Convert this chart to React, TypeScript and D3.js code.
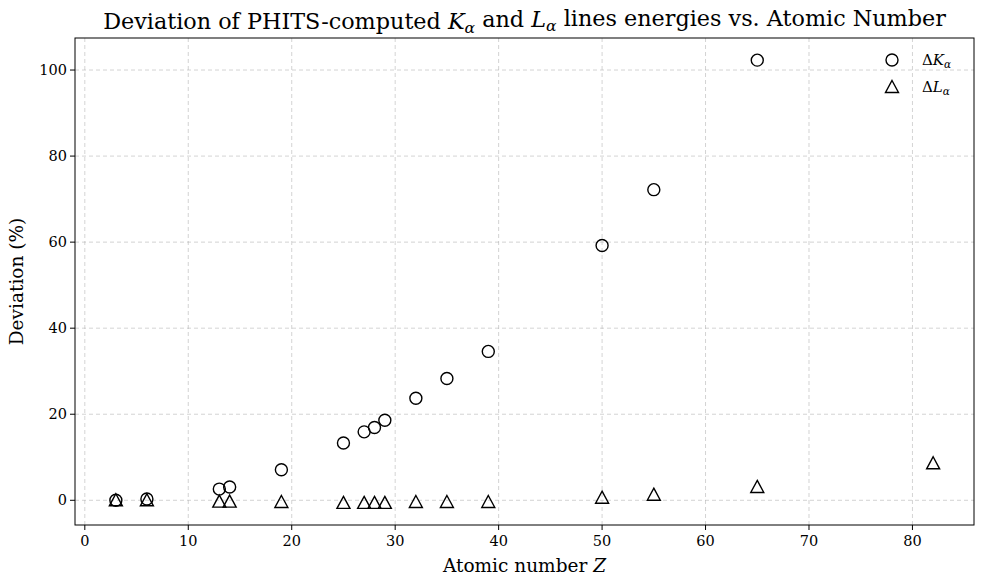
import * as d3 from "d3";

const W = 984;
const H = 584;
const margin = { top: 38, right: 10, bottom: 59, left: 75 };
const IW = W - margin.left - margin.right;
const IH = H - margin.top - margin.bottom;

const Z_K: number[] = [3, 6, 13, 14, 19, 25, 27, 28, 29, 32, 35, 39, 50, 55, 65];
const DEV_K: number[] = [0, 0.3, 2.6, 3.1, 7.1, 13.3, 15.9, 16.9, 18.6, 23.7, 28.3, 34.6, 59.2, 72.2, 102.3];
const Z_L: number[] = [3, 6, 13, 14, 19, 25, 27, 28, 29, 32, 35, 39, 50, 55, 65, 82];
const DEV_L: number[] = [0, 0, -0.3, -0.3, -0.4, -0.6, -0.6, -0.6, -0.6, -0.4, -0.4, -0.4, 0.6, 1.3, 3.1, 8.6];
const X_TICKS: number[] = [0, 10, 20, 30, 40, 50, 60, 70, 80];
const Y_TICKS: number[] = [0, 20, 40, 60, 80, 100];

const FONT = "'DejaVu Serif', serif";

const tri = (cx: number, cy: number, s: number) =>
  `M${cx},${cy - s}L${cx + s},${cy + s * 0.85}L${cx - s},${cy + s * 0.85}Z`;

const Sub = ({ base }: { base: string }) => (
  <>
    <tspan fontStyle="italic">{base}</tspan>
    <tspan fontStyle="italic" fontSize="0.7em" dy="0.25em">α</tspan>
    <tspan dy="-0.25em"> </tspan>
  </>
);

export default function App() {
  const allZ = [...Z_K, ...Z_L];
  const allD = [...DEV_K, ...DEV_L];
  const [zx0, zx1] = d3.extent(allZ) as [number, number];
  const [dy0, dy1] = d3.extent(allD) as [number, number];
  const px = (zx1 - zx0) * 0.05;
  const py = (dy1 - dy0) * 0.05;
  const x = d3.scaleLinear().domain([zx0 - px, zx1 + px]).range([0, IW]);
  const y = d3.scaleLinear().domain([dy0 - py, dy1 + py]).range([IH, 0]);

  return (
    <svg width={W} height={H} style={{ position: "absolute", left: 0, top: 0 }} fontFamily={FONT}>
      <rect width={W} height={H} fill="#fff" />
      <text x={margin.left + IW / 2} y={29} textAnchor="middle" fontSize={22.3}>
        Deviation of PHITS-computed <Sub base="K" />and <Sub base="L" />lines energies vs. Atomic Number
      </text>
      <g transform={`translate(${margin.left},${margin.top})`}>
        {X_TICKS.map((t) => (
          <line key={"gx" + t} x1={x(t)} x2={x(t)} y1={0} y2={IH} stroke="#b0b0b0" strokeOpacity={0.7} strokeDasharray="4,3" strokeWidth={0.8} />
        ))}
        {Y_TICKS.map((t) => (
          <line key={"gy" + t} x1={0} x2={IW} y1={y(t)} y2={y(t)} stroke="#b0b0b0" strokeOpacity={0.7} strokeDasharray="4,3" strokeWidth={0.8} />
        ))}
        {Z_K.map((z, i) => (
          <circle key={"k" + i} cx={x(z)} cy={y(DEV_K[i])} r={6} fill="none" stroke="#000" strokeWidth={1.4} />
        ))}
        {Z_L.map((z, i) => (
          <path key={"l" + i} d={tri(x(z), y(DEV_L[i]), 6.5)} fill="none" stroke="#000" strokeWidth={1.4} />
        ))}
        <rect x={0} y={0} width={IW} height={IH} fill="none" stroke="#000" strokeWidth={1} />
        {X_TICKS.map((t) => (
          <g key={"tx" + t} transform={`translate(${x(t)},${IH})`}>
            <line y2={5} stroke="#000" />
            <text y={21} textAnchor="middle" fontSize={14.5}>{t}</text>
          </g>
        ))}
        {Y_TICKS.map((t) => (
          <g key={"ty" + t} transform={`translate(0,${y(t)})`}>
            <line x2={-5} stroke="#000" />
            <text x={-8} dy="0.35em" textAnchor="end" fontSize={14.5}>{t}</text>
          </g>
        ))}
        <text x={IW / 2} y={IH + 47} textAnchor="middle" fontSize={18.5}>
          Atomic number <tspan fontStyle="italic">Z</tspan>
        </text>
        <text transform={`translate(${-52},${IH / 2}) rotate(-90)`} textAnchor="middle" fontSize={18.5}>
          Deviation (%)
        </text>
        <g transform={`translate(${IW - 82},22)`}>
          <circle cx={0} cy={0} r={6} fill="none" stroke="#000" strokeWidth={1.4} />
          <text x={30} dy="0.35em" fontSize={15}>Δ<tspan fontStyle="italic">K</tspan><tspan fontStyle="italic" fontSize="0.7em" dy="0.25em">α</tspan></text>
          <path d={tri(0, 27, 6.5)} fill="none" stroke="#000" strokeWidth={1.4} />
          <text x={30} y={27} dy="0.35em" fontSize={15}>Δ<tspan fontStyle="italic">L</tspan><tspan fontStyle="italic" fontSize="0.7em" dy="0.25em">α</tspan></text>
        </g>
      </g>
    </svg>
  );
}
